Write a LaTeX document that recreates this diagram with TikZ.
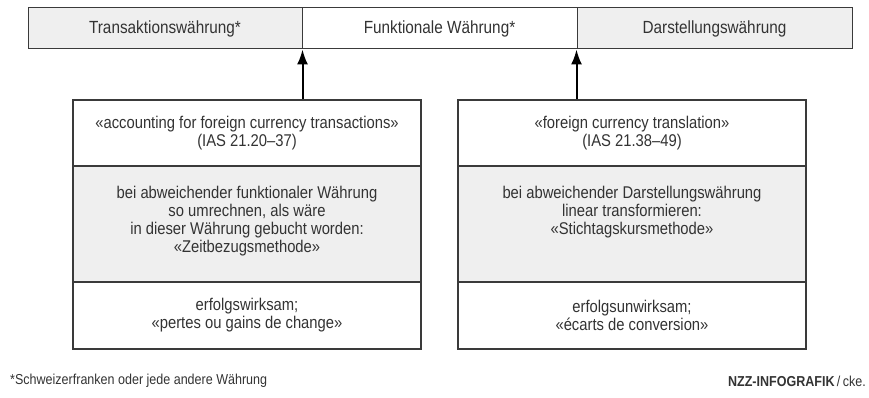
\documentclass[tikz,border=0pt]{standalone}
\usepackage{fontspec}
\setmainfont[FakeStretch=0.87]{Liberation Sans}
\usetikzlibrary{arrows.meta}
\definecolor{cellgray}{HTML}{EFEFEF}
\definecolor{linegray}{HTML}{3A3A3A}
\definecolor{txt}{HTML}{333333}
\tikzset{
  barcell/.style={draw=linegray, line width=1pt, rectangle, minimum height=41pt, inner sep=0pt, text=txt, font=\fontsize{17.6}{19}\selectfont},
  sect/.style={draw=linegray, line width=1.1pt, rectangle, minimum width=348pt, inner sep=0pt, text=txt, align=center, font=\fontsize{17}{18}\selectfont},
  midtext/.style={anchor=north, inner sep=0pt, text=txt, align=center, font=\fontsize{17}{18}\selectfont},
  arr/.style={line width=2pt, black, -{Latex[length=15pt,width=11pt]}},
  foot/.style={text=txt, inner sep=0pt, font=\fontsize{14.4}{15}\selectfont}
}
\begin{document}
\begin{tikzpicture}[x=1pt,y=-1pt]
\useasboundingbox (0,0) rectangle (869,398);
% top bar
\node[barcell, fill=cellgray, minimum width=274pt] (t1) at (165,28.5) {Transaktionswährung*};
\node[barcell, fill=white, minimum width=275pt] (t2) at (439.5,28.5) {Funktionale Währung*};
\node[barcell, fill=cellgray, minimum width=275pt] (t3) at (714.5,28.5) {Darstellungswährung};
% left box
\node[sect, fill=white, minimum height=66pt] (a1) at (247,133) {«accounting for foreign currency transactions»\\(IAS 21.20–37)};
\node[sect, fill=cellgray, minimum height=116pt] (a2) at (247,224) {};
\node[midtext] (a2t) at (247,186) {bei abweichender funktionaler Währung\\so umrechnen, als wäre\\in dieser Währung gebucht worden:\\«Zeitbezugsmethode»};
\node[sect, fill=white, minimum height=67pt] (a3) at (247,315.5) {erfolgswirksam;\\«pertes ou gains de change»};
% right box
\node[sect, fill=white, minimum height=66pt] (b1) at (632,133) {«foreign currency translation»\\(IAS 21.38–49)};
\node[sect, fill=cellgray, minimum height=116pt] (b2) at (632,224) {};
\node[midtext] (b2t) at (632,186) {bei abweichender Darstellungswährung\\linear transformieren:\\«Stichtagskursmethode»};
\node[sect, fill=white, minimum height=67pt] (b3) at (632,315.5) {erfolgsunwirksam;\\«écarts de conversion»};
% arrows
\draw[arr] (a1.north -| t1.south east) -- (t1.south east);
\draw[arr] (b1.north -| t3.south west) -- (t3.south west);
% footer
\node[foot, anchor=west] (fn) at (10,381) {*Schweizerfranken oder jede andere Währung};
\node[foot, anchor=east] (cr) at (866,381) {\textbf{NZZ-INFOGRAFIK}\,/\,cke.};
\end{tikzpicture}
\end{document}
